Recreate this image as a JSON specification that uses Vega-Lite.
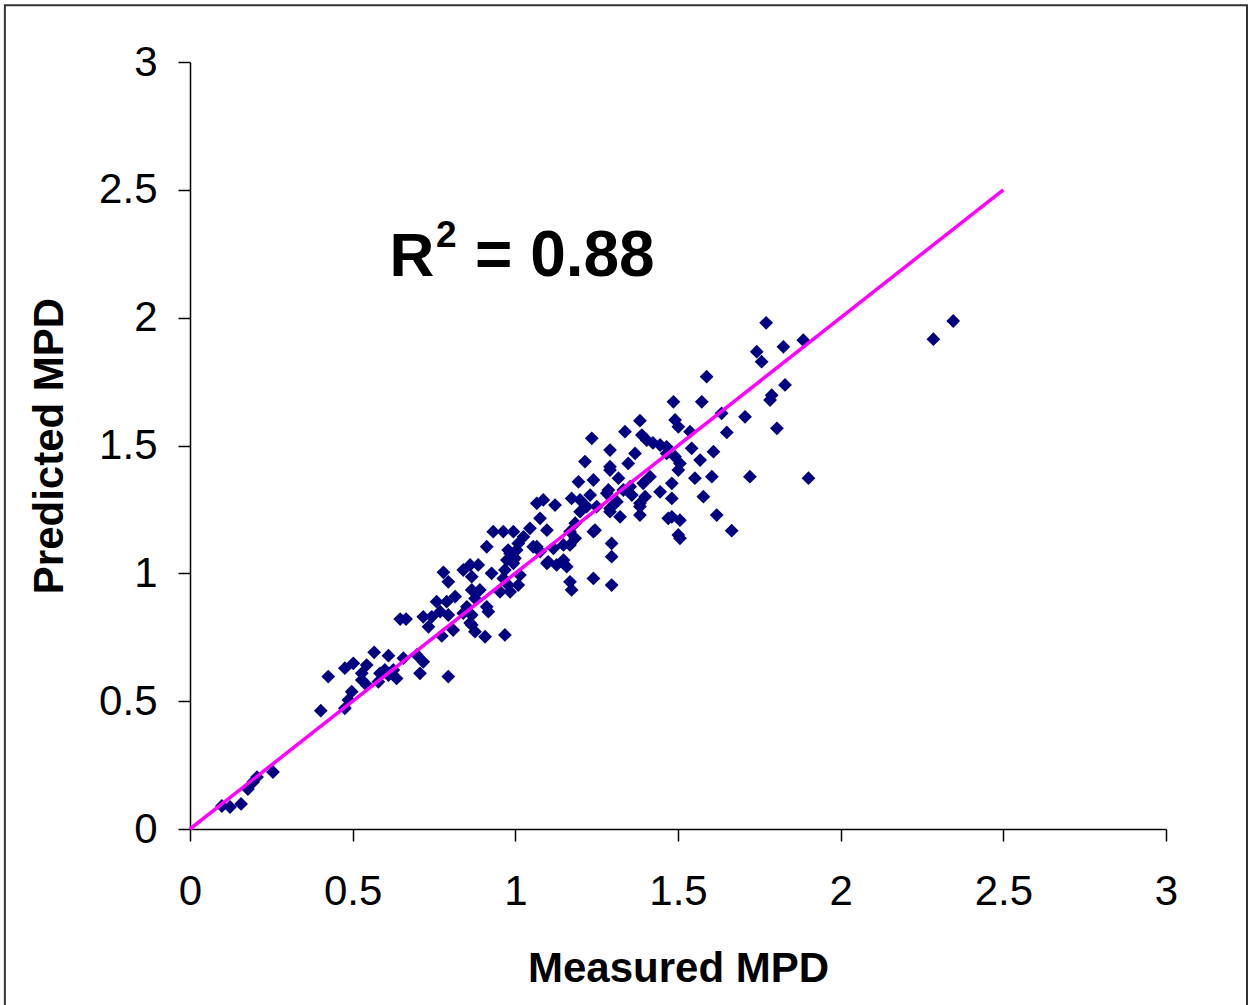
{
  "$schema": "https://vega.github.io/schema/vega-lite/v6.json",
  "width": 976,
  "height": 767,
  "autosize": "none",
  "padding": {"left": 190, "top": 62, "right": 84, "bottom": 176},
  "background": "white",
  "config": {
    "view": {"stroke": null},
    "font": "Liberation Sans",
    "axis": {
      "labelFont": "Liberation Sans", "labelFontSize": 42, "labelColor": "#000000",
      "titleFont": "Liberation Sans", "titleFontSize": 42, "titleFontWeight": "bold", "titleColor": "#000000",
      "domainColor": "#000000", "domainWidth": 1.5, "tickColor": "#000000", "tickWidth": 1.5, "tickSize": 12,
      "grid": false
    }
  },
  "datasets": {
    "pts": [
      {"m":0.098,"p":0.090},{"m":0.123,"p":0.086},{"m":0.157,"p":0.098},{"m":0.178,"p":0.156},{"m":0.194,"p":0.184},{"m":0.206,"p":0.203},{"m":0.255,"p":0.223},
      {"m":0.402,"p":0.463},{"m":0.425,"p":0.596},{"m":0.476,"p":0.472},{"m":0.487,"p":0.505},{"m":0.497,"p":0.537},{"m":0.476,"p":0.629},{"m":0.502,"p":0.648},
      {"m":0.528,"p":0.609},{"m":0.543,"p":0.641},{"m":0.528,"p":0.583},{"m":0.543,"p":0.563},{"m":0.566,"p":0.691},{"m":0.610,"p":0.678},{"m":0.584,"p":0.609},
      {"m":0.579,"p":0.576},{"m":0.599,"p":0.622},{"m":0.610,"p":0.602},{"m":0.625,"p":0.622},{"m":0.635,"p":0.589},{"m":0.656,"p":0.668},{"m":0.697,"p":0.681},
      {"m":0.717,"p":0.654},{"m":0.707,"p":0.609},{"m":0.794,"p":0.596},{"m":0.774,"p":0.755},{"m":0.809,"p":0.778},{"m":0.733,"p":0.791},{"m":0.646,"p":0.821},
      {"m":0.664,"p":0.821},{"m":0.861,"p":0.806},
      {"m":0.912,"p":1.104},{"m":0.779,"p":1.004},{"m":0.794,"p":0.967},{"m":0.840,"p":1.013},{"m":0.861,"p":1.033},{"m":0.886,"p":1.033},{"m":0.866,"p":0.987},
      {"m":0.927,"p":1.000},{"m":0.963,"p":0.980},{"m":0.978,"p":0.954},{"m":0.953,"p":0.928},{"m":0.984,"p":0.928},{"m":1.009,"p":0.954},{"m":1.014,"p":0.993},
      {"m":0.866,"p":0.935},{"m":0.891,"p":0.935},{"m":0.876,"p":0.902},{"m":0.815,"p":0.909},{"m":0.789,"p":0.889},{"m":0.758,"p":0.889},{"m":0.851,"p":0.869},
      {"m":0.840,"p":0.844},{"m":0.866,"p":0.837},{"m":0.912,"p":0.869},{"m":0.917,"p":0.850},{"m":0.794,"p":0.837},{"m":0.769,"p":0.850},{"m":0.743,"p":0.830},
      {"m":0.717,"p":0.830},{"m":0.866,"p":0.798},{"m":0.876,"p":0.772},{"m":0.907,"p":0.752},{"m":0.968,"p":0.759},
      {"m":0.984,"p":1.078},{"m":1.004,"p":1.091},{"m":0.994,"p":1.039},{"m":0.974,"p":1.052},{"m":1.066,"p":1.104},{"m":1.117,"p":1.098},{"m":1.097,"p":1.039},
      {"m":1.148,"p":1.052},{"m":1.127,"p":1.033},{"m":1.168,"p":0.967},{"m":1.173,"p":0.935},{"m":1.168,"p":1.111},
      {"m":1.194,"p":1.358},{"m":1.240,"p":1.365},{"m":1.291,"p":1.404},{"m":1.317,"p":1.372},{"m":1.414,"p":1.378},{"m":1.066,"p":1.274},{"m":1.086,"p":1.287},
      {"m":1.122,"p":1.267},{"m":1.173,"p":1.293},{"m":1.199,"p":1.287},{"m":1.230,"p":1.306},{"m":1.199,"p":1.241},{"m":1.219,"p":1.261},{"m":1.250,"p":1.261},
      {"m":1.281,"p":1.313},{"m":1.332,"p":1.326},{"m":1.353,"p":1.339},{"m":1.393,"p":1.352},{"m":1.445,"p":1.319},{"m":1.383,"p":1.274},{"m":1.291,"p":1.254},
      {"m":1.322,"p":1.221},{"m":1.383,"p":1.228},{"m":1.470,"p":1.215},{"m":1.076,"p":1.215},{"m":1.097,"p":1.169},{"m":1.045,"p":1.176},{"m":1.184,"p":1.196},
      {"m":1.168,"p":1.163},{"m":1.240,"p":1.163},{"m":0.932,"p":1.163},{"m":0.963,"p":1.163},{"m":0.994,"p":1.163},{"m":1.025,"p":1.143},{"m":1.009,"p":1.117},
      {"m":0.978,"p":1.091},{"m":1.055,"p":1.104},{"m":1.076,"p":1.085},{"m":1.148,"p":1.111},{"m":1.184,"p":1.137},{"m":1.296,"p":1.117},{"m":1.296,"p":1.065},
      {"m":1.101,"p":1.045},{"m":1.158,"p":1.026},{"m":0.999,"p":1.059},{"m":0.968,"p":1.013},{"m":1.240,"p":0.980},{"m":1.296,"p":0.954},
      {"m":1.486,"p":1.671},{"m":1.573,"p":1.671},{"m":1.383,"p":1.597},{"m":1.337,"p":1.554},{"m":1.235,"p":1.528},{"m":1.491,"p":1.600},{"m":1.501,"p":1.573},
      {"m":1.537,"p":1.554},{"m":1.634,"p":1.626},{"m":1.650,"p":1.551},{"m":1.389,"p":1.541},{"m":1.404,"p":1.521},{"m":1.445,"p":1.502},{"m":1.465,"p":1.495},
      {"m":1.423,"p":1.510},{"m":1.291,"p":1.482},{"m":1.368,"p":1.469},{"m":1.347,"p":1.430},{"m":1.465,"p":1.469},{"m":1.491,"p":1.456},{"m":1.506,"p":1.430},
      {"m":1.542,"p":1.489},{"m":1.609,"p":1.476},{"m":1.568,"p":1.443},{"m":1.501,"p":1.404},{"m":1.214,"p":1.437},{"m":1.291,"p":1.417},{"m":1.481,"p":1.352},
      {"m":1.552,"p":1.372},{"m":1.604,"p":1.378},{"m":1.286,"p":1.326},{"m":1.358,"p":1.306},{"m":1.481,"p":1.293},{"m":1.578,"p":1.300},{"m":1.399,"p":1.300},
      {"m":1.383,"p":1.261},{"m":1.312,"p":1.280},{"m":1.291,"p":1.241},{"m":1.481,"p":1.221},{"m":1.506,"p":1.208},{"m":1.619,"p":1.228},{"m":1.245,"p":1.169},
      {"m":1.501,"p":1.150},{"m":1.665,"p":1.167},{"m":1.506,"p":1.137},
      {"m":1.885,"p":1.912},{"m":1.824,"p":1.886},{"m":1.742,"p":1.867},{"m":1.757,"p":1.828},{"m":1.588,"p":1.769},{"m":1.829,"p":1.737},{"m":1.788,"p":1.697},
      {"m":1.783,"p":1.678},{"m":1.706,"p":1.612},{"m":1.804,"p":1.567},{"m":1.771,"p":1.980},{"m":1.721,"p":1.378},{"m":1.901,"p":1.372},
      {"m":2.346,"p":1.987},{"m":2.285,"p":1.916}
    ],
    "fit": [{"m":0,"p":0},{"m":2.5,"p":2.5}],
    "one": [{"k": 1}]
  },
  "layer": [
    {
      "data": {"name": "one"},
      "mark": {"type": "rect", "fill": null, "stroke": "#333333", "strokeWidth": 2},
      "encoding": {
        "x": {"datum": -0.569, "type": "quantitative"},
        "x2": {"datum": 3.249},
        "y": {"datum": 3.222, "type": "quantitative"},
        "y2": {"datum": -0.75}
      }
    },
    {
      "data": {"name": "pts"},
      "mark": {"type": "point", "shape": "diamond", "filled": true, "opacity": 1, "color": "#000080", "size": 190},
      "encoding": {
        "x": {"field": "m", "type": "quantitative",
          "scale": {"domain": [0, 3], "nice": false, "zero": false},
          "axis": {"title": "Measured MPD", "values": [0, 0.5, 1, 1.5, 2, 2.5, 3], "format": "~g", "labelPadding": 30, "titlePadding": 36, "labelFlush": false}},
        "y": {"field": "p", "type": "quantitative",
          "scale": {"domain": [0, 3], "nice": false, "zero": false},
          "axis": {"title": "Predicted MPD", "values": [0, 0.5, 1, 1.5, 2, 2.5, 3], "format": "~g", "labelPadding": 21, "titlePadding": 27, "labelFlush": false}}
      }
    },
    {
      "data": {"name": "fit"},
      "mark": {"type": "line", "color": "#FF00FF", "strokeWidth": 3.5},
      "encoding": {
        "x": {"field": "m", "type": "quantitative"},
        "y": {"field": "p", "type": "quantitative"}
      }
    },
    {
      "data": {"name": "one"},
      "mark": {"type": "text", "text": "R", "font": "Liberation Sans", "fontWeight": "bold", "fontSize": 62, "align": "left", "baseline": "alphabetic", "color": "#000000"},
      "encoding": {"x": {"datum": 0.613, "type": "quantitative"}, "y": {"datum": 2.163, "type": "quantitative"}}
    },
    {
      "data": {"name": "one"},
      "mark": {"type": "text", "text": "2", "font": "Liberation Sans", "fontWeight": "bold", "fontSize": 37, "align": "left", "baseline": "alphabetic", "color": "#000000"},
      "encoding": {"x": {"datum": 0.756, "type": "quantitative"}, "y": {"datum": 2.276, "type": "quantitative"}}
    },
    {
      "data": {"name": "one"},
      "mark": {"type": "text", "text": "= 0.88", "font": "Liberation Sans", "fontWeight": "bold", "fontSize": 64, "align": "left", "baseline": "alphabetic", "color": "#000000"},
      "encoding": {"x": {"datum": 0.876, "type": "quantitative"}, "y": {"datum": 2.163, "type": "quantitative"}}
    }
  ]
}
